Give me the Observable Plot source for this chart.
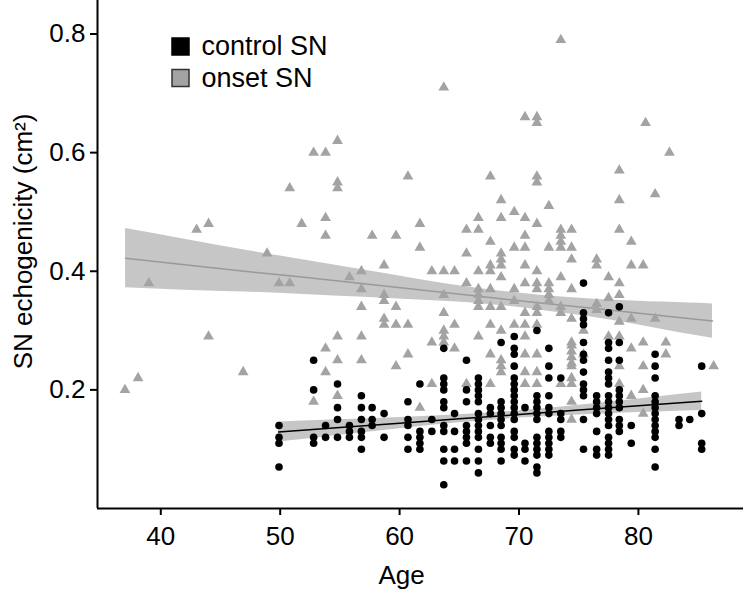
<!DOCTYPE html>
<html>
<head>
<meta charset="utf-8">
<script src="https://cdn.jsdelivr.net/npm/d3@7"></script>
<script src="https://cdn.jsdelivr.net/npm/@observablehq/plot@0.6"></script>
<style>
  html, body { margin: 0; padding: 0; background: #fff; }
</style>
</head>
<body>
<div id="chart"></div>
<script>
// ---- Data ----
const series = ["control SN", "onset SN"];
const xLabel = "Age";
const yLabel = "SN echogenicity (cm²)";
const xTicks = [40, 50, 60, 70, 80];
const yTicks = [0.2, 0.4, 0.6, 0.8];

// control SN: ages and the values stacked at each age
const controlAges = [49.9, 52.8, 53.8, 54.8, 55.8, 56.8, 57.7, 58.7, 60.7, 61.7, 62.7, 63.7, 64.6, 65.6, 66.6, 67.6, 68.5, 69.6, 70.5, 71.5, 72.5, 73.5, 75.4, 76.5, 77.5, 78.4, 79.4, 81.4, 83.4, 84.3, 85.3];
const controlValues = [
  [0.14, 0.12, 0.11, 0.07],
  [0.25, 0.20, 0.12, 0.11],
  [0.14, 0.12],
  [0.21, 0.17, 0.15, 0.12],
  [0.14, 0.13, 0.12],
  [0.19, 0.17, 0.15, 0.13, 0.12, 0.10],
  [0.17, 0.15, 0.14],
  [0.16, 0.12],
  [0.18, 0.15, 0.14, 0.12, 0.10],
  [0.21, 0.13, 0.12, 0.11, 0.10],
  [0.15, 0.13],
  [0.27, 0.22, 0.21, 0.20, 0.18, 0.17, 0.14, 0.13, 0.10, 0.08, 0.04],
  [0.16, 0.13, 0.10, 0.08],
  [0.25, 0.20, 0.18, 0.14, 0.13, 0.12, 0.11, 0.08],
  [0.22, 0.21, 0.20, 0.19, 0.18, 0.16, 0.15, 0.14, 0.13, 0.12, 0.10, 0.08, 0.06],
  [0.17, 0.16, 0.14, 0.12, 0.11],
  [0.28, 0.18, 0.17, 0.16, 0.15, 0.14, 0.12, 0.11, 0.10, 0.08],
  [0.29, 0.27, 0.26, 0.24, 0.22, 0.21, 0.20, 0.19, 0.18, 0.17, 0.16, 0.15, 0.13, 0.12, 0.10, 0.09],
  [0.17, 0.11, 0.10, 0.08],
  [0.30, 0.19, 0.18, 0.17, 0.16, 0.15, 0.12, 0.11, 0.10, 0.09, 0.07, 0.06],
  [0.27, 0.24, 0.22, 0.19, 0.17, 0.16, 0.13, 0.12, 0.11, 0.10, 0.09],
  [0.22, 0.16, 0.15, 0.13, 0.12],
  [0.38, 0.33, 0.32, 0.31, 0.28, 0.26, 0.25, 0.23, 0.21, 0.20, 0.19, 0.15, 0.10],
  [0.19, 0.18, 0.17, 0.16, 0.13, 0.10, 0.09],
  [0.33, 0.28, 0.27, 0.25, 0.23, 0.22, 0.21, 0.19, 0.18, 0.17, 0.16, 0.15, 0.14, 0.12, 0.11, 0.10, 0.09],
  [0.34, 0.28, 0.25, 0.20, 0.19, 0.18, 0.17, 0.15, 0.14, 0.13],
  [0.14, 0.11],
  [0.26, 0.24, 0.22, 0.19, 0.18, 0.17, 0.16, 0.15, 0.14, 0.13, 0.12, 0.10, 0.07],
  [0.15, 0.14],
  [0.15],
  [0.24, 0.16, 0.11, 0.10]
];

// onset SN: ages and the values at each age
const onsetAges = [37.0, 38.1, 39.0, 43.0, 44.0, 46.9, 48.9, 49.9, 50.8, 51.8, 52.8, 53.8, 54.8, 55.8, 56.8, 57.7, 58.7, 59.7, 60.7, 61.7, 62.7, 63.7, 64.6, 65.6, 66.6, 67.6, 68.5, 69.6, 70.5, 71.5, 72.5, 73.5, 74.4, 75.4, 76.5, 77.5, 78.4, 79.4, 80.4, 80.6, 81.4, 82.3, 82.6, 86.3];
const onsetValues = [
  [0.20],
  [0.22],
  [0.38],
  [0.47],
  [0.48, 0.29],
  [0.23],
  [0.43],
  [0.38],
  [0.54, 0.38],
  [0.48],
  [0.60, 0.18],
  [0.60, 0.49, 0.46, 0.27, 0.23],
  [0.62, 0.55, 0.54, 0.29, 0.25, 0.19],
  [0.39],
  [0.40, 0.37, 0.34, 0.29, 0.25],
  [0.46],
  [0.41, 0.36, 0.35, 0.32, 0.31],
  [0.46, 0.34, 0.31, 0.24],
  [0.56, 0.31, 0.26],
  [0.48, 0.44, 0.17],
  [0.40, 0.28, 0.21],
  [0.71, 0.40, 0.36, 0.33, 0.30, 0.29, 0.28],
  [0.40, 0.31, 0.27],
  [0.47, 0.43, 0.38, 0.21],
  [0.49, 0.47, 0.40, 0.37, 0.36, 0.35, 0.34, 0.29],
  [0.56, 0.45, 0.41, 0.40, 0.37, 0.34, 0.31, 0.26, 0.21],
  [0.52, 0.49, 0.43, 0.42, 0.41, 0.39, 0.34, 0.30, 0.25, 0.24, 0.23],
  [0.50, 0.44, 0.37, 0.35, 0.31],
  [0.66, 0.49, 0.46, 0.44, 0.41, 0.38, 0.33, 0.31, 0.29, 0.26, 0.23, 0.21],
  [0.66, 0.65, 0.56, 0.55, 0.48, 0.40, 0.38, 0.37, 0.34, 0.33, 0.31, 0.26, 0.23, 0.21],
  [0.51, 0.44, 0.38, 0.37, 0.36, 0.35],
  [0.79, 0.47, 0.46, 0.45, 0.44, 0.39, 0.34, 0.33, 0.21],
  [0.47, 0.44, 0.42, 0.37, 0.32, 0.28, 0.275, 0.265, 0.255, 0.245, 0.24, 0.22, 0.21, 0.18, 0.15],
  [0.30, 0.26],
  [0.42, 0.41, 0.345, 0.335],
  [0.39, 0.355, 0.29],
  [0.57, 0.52, 0.47, 0.38, 0.36, 0.315, 0.29, 0.24, 0.21],
  [0.45, 0.41, 0.32, 0.27, 0.19],
  [0.41, 0.28, 0.24, 0.20, 0.16],
  [0.65],
  [0.53, 0.32],
  [0.28, 0.26],
  [0.60],
  [0.24]
];

// Fitted regression lines with their confidence bands
const onsetFitAge = [37.05, 42, 47, 52, 57, 62, 67, 72, 77, 82, 86.2];
const onsetFitMid = [0.422, 0.411, 0.400, 0.390, 0.379, 0.368, 0.357, 0.346, 0.336, 0.325, 0.316];
const onsetFitLo  = [0.372, 0.368, 0.365, 0.361, 0.356, 0.351, 0.345, 0.334, 0.320, 0.302, 0.287];
const onsetFitHi  = [0.472, 0.454, 0.436, 0.419, 0.402, 0.385, 0.370, 0.359, 0.352, 0.348, 0.345];

const controlFitAge = [49.86, 55, 60, 65, 70, 75, 80, 85.3];
const controlFitMid = [0.129, 0.1365, 0.1439, 0.1512, 0.1585, 0.1659, 0.1732, 0.181];
const controlFitLo  = [0.112, 0.1235, 0.1345, 0.1445, 0.1524, 0.1577, 0.1617, 0.1654];
const controlFitHi  = [0.146, 0.1495, 0.1533, 0.1579, 0.1646, 0.1741, 0.1847, 0.1966];

// ---- Build tables ----
const control = controlAges.flatMap((a, i) => controlValues[i].map(v => ({age: a, sn: v})));
const onset = onsetAges.flatMap((a, i) => onsetValues[i].map(v => ({age: a, sn: v})));
const onsetFit = onsetFitAge.map((a, i) => ({age: a, mid: onsetFitMid[i], lo: onsetFitLo[i], hi: onsetFitHi[i]}));
const controlFit = controlFitAge.map((a, i) => ({age: a, mid: controlFitMid[i], lo: controlFitLo[i], hi: controlFitHi[i]}));

const xDomain = [34.7, 88.8];
const yDomain = [0, 0.8565];
const seriesFill = ["#000000", "#a3a3a3"];
const seriesStroke = ["#000000", "#333333"];
const bandFill = "#c6c6c6";

const legendMarks = series.flatMap((s, i) => [
  Plot.dot([s], {frameAnchor: "top-left", dx: 83, dy: 46 + 31.5 * i, symbol: "square", r: 9.6,
    fill: seriesFill[i], stroke: seriesStroke[i], strokeWidth: 1.5}),
  Plot.text([s], {frameAnchor: "top-left", dx: 104, dy: 46 + 31.5 * i, text: d => d,
    textAnchor: "start", lineAnchor: "middle", fontSize: 27, fill: "#000"})
]);

const chart = Plot.plot({
  width: 743,
  height: 593,
  marginLeft: 97,
  marginRight: 0,
  marginTop: 0,
  marginBottom: 85,
  style: {fontFamily: "'Liberation Sans', Arial, Helvetica, sans-serif", fontSize: "26px", color: "#000", background: "#fff", overflow: "visible"},
  x: {domain: xDomain},
  y: {domain: yDomain},
  marks: [
    Plot.areaY(onsetFit, {x: "age", y1: "lo", y2: "hi", fill: bandFill, curve: "natural"}),
    Plot.lineY(onsetFit, {x: "age", y: "mid", stroke: "#999999", strokeWidth: 1.5}),
    Plot.areaY(controlFit, {x: "age", y1: "lo", y2: "hi", fill: bandFill, curve: "natural"}),
    Plot.lineY(controlFit, {x: "age", y: "mid", stroke: "#000000", strokeWidth: 1.5}),
    Plot.dot(onset, {x: "age", y: "sn", symbol: "triangle", r: 4, fill: seriesFill[1], stroke: "none"}),
    Plot.dot(control, {x: "age", y: "sn", r: 3.8, fill: seriesFill[0], stroke: "none"}),
    Plot.axisX({ticks: xTicks, tickSize: 7, tickPadding: 11, strokeWidth: 2, label: null, fontSize: 26}),
    Plot.axisY({ticks: yTicks, tickSize: 7, tickPadding: 5, strokeWidth: 2, label: null, fontSize: 26, tickFormat: d3.format(".1f")}),
    Plot.ruleX([xDomain[0]], {strokeWidth: 2}),
    Plot.ruleY([yDomain[0]], {strokeWidth: 2}),
    ...legendMarks,
    Plot.text([yLabel], {frameAnchor: "left", dx: -74, dy: -13, rotate: -90, text: d => d,
      textAnchor: "middle", lineAnchor: "middle", fontSize: 26, fill: "#000"}),
    Plot.text([xLabel], {frameAnchor: "bottom", dx: -19, dy: 67, text: d => d,
      textAnchor: "middle", lineAnchor: "middle", fontSize: 26, fill: "#000"})
  ]
});

document.getElementById("chart").appendChild(chart);
</script>
</body>
</html>
